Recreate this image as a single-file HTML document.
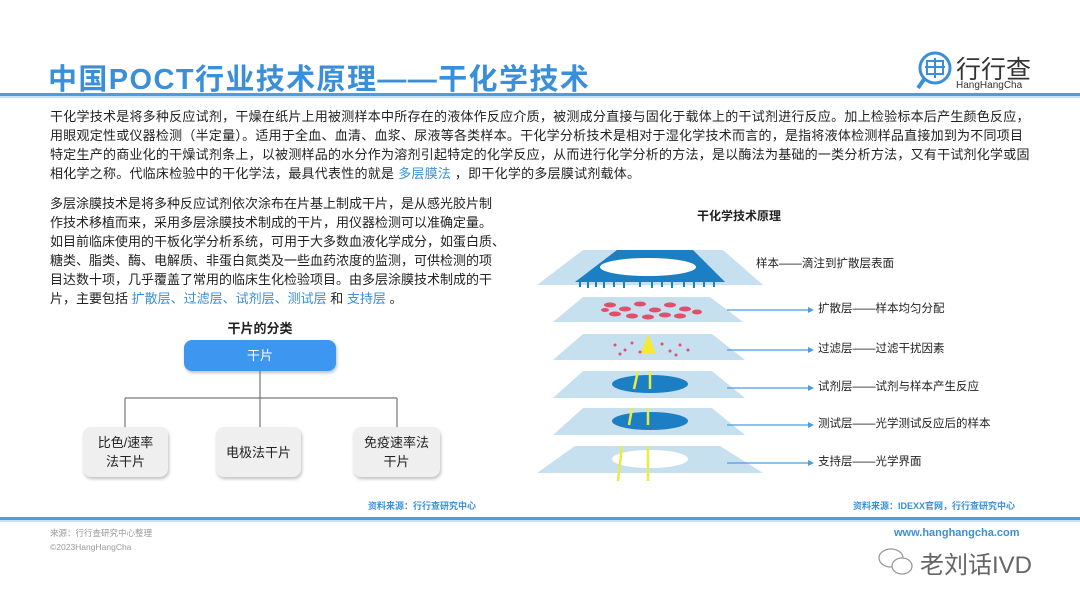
<!DOCTYPE html>
<html><head><meta charset="utf-8"><style>
*{margin:0;padding:0;box-sizing:border-box}
body{width:1080px;height:608px;background:#fff;position:relative;overflow:hidden;font-family:"Liberation Sans","Noto Sans CJK SC",sans-serif;color:#222}
.a{position:absolute;white-space:nowrap}
.p{font-size:13px;line-height:19px}
.p1{letter-spacing:0.24px}
.b{color:#3d8fd6}
.box{position:absolute;background:#efefef;border-radius:8px;box-shadow:1px 2px 3px rgba(0,0,0,.25);font-size:13px;text-align:center;display:flex;align-items:center;justify-content:center;line-height:19px}
</style></head><body>
<div class="a" style="left:48px;top:56px;font-size:29px;font-weight:bold;color:#3a8fd8;letter-spacing:1.4px">中国POCT行业技术原理——干化学技术</div>
<svg class="a" style="left:915px;top:50px" width="40" height="42" viewBox="0 0 40 42"><circle cx="20" cy="18" r="15" fill="none" stroke="#3a8fd8" stroke-width="3"/><path d="M10 28 L3 38" stroke="#3a8fd8" stroke-width="4"/><rect x="12" y="11" width="16" height="13" fill="none" stroke="#3a8fd8" stroke-width="2"/><path d="M20 8V28M10 17H30" stroke="#3a8fd8" stroke-width="2"/></svg>
<div class="a" style="left:956px;top:50px;font-size:25px;color:#333">行行查</div>
<div class="a" style="left:956px;top:80px;font-size:10px;color:#333">HangHangCha</div>
<div class="a" style="left:0;top:93px;width:1080px;height:3px;background:#4a9de0"></div>
<div class="a" style="left:0;top:96px;width:1080px;height:2px;background:#c8e0f5"></div>

<div class="a p p1" style="left:50px;top:107px">干化学技术是将多种反应试剂，干燥在纸片上用被测样本中所存在的液体作反应介质，被测成分直接与固化于载体上的干试剂进行反应。加上检验标本后产生颜色反应，</div>
<div class="a p p1" style="left:50px;top:126px">用眼观定性或仪器检测（半定量）。适用于全血、血清、血浆、尿液等各类样本。干化学分析技术是相对于湿化学技术而言的，是指将液体检测样品直接加到为不同项目</div>
<div class="a p p1" style="left:50px;top:145px">特定生产的商业化的干燥试剂条上，以被测样品的水分作为溶剂引起特定的化学反应，从而进行化学分析的方法，是以酶法为基础的一类分析方法，又有干试剂化学或固</div>
<div class="a p p1" style="left:50px;top:164px">相化学之称。代临床检验中的干化学法，最具代表性的就是 <span class="b">多层膜法</span> ，即干化学的多层膜试剂载体。</div>

<div class="a p" style="left:50px;top:194px">多层涂膜技术是将多种反应试剂依次涂布在片基上制成干片，是从感光胶片制</div>
<div class="a p" style="left:50px;top:213px">作技术移植而来，采用多层涂膜技术制成的干片，用仪器检测可以准确定量。</div>
<div class="a p" style="left:50px;top:232px">如目前临床使用的干板化学分析系统，可用于大多数血液化学成分，如蛋白质、</div>
<div class="a p" style="left:50px;top:251px">糖类、脂类、酶、电解质、非蛋白氮类及一些血药浓度的监测，可供检测的项</div>
<div class="a p" style="left:50px;top:270px">目达数十项，几乎覆盖了常用的临床生化检验项目。由多层涂膜技术制成的干</div>
<div class="a p" style="left:50px;top:289px">片，主要包括 <span class="b">扩散层、过滤层、试剂层、测试层</span> 和 <span class="b">支持层</span> 。</div>

<div class="a" style="left:0;top:318px;width:520px;text-align:center;font-size:13px;font-weight:bold">干片的分类</div>
<div class="box" style="left:184px;top:340px;width:152px;height:31px;background:#3d96ef;color:#fff">干片</div>
<svg class="a" style="left:0;top:0" width="520" height="500"><path d="M260 371V427M125 398H397M125 398V427M397 398V427" stroke="#777" stroke-width="1.2" fill="none"/></svg>
<div class="box" style="left:83px;top:427px;width:85px;height:50px">比色/速率<br>法干片</div>
<div class="box" style="left:216px;top:427px;width:85px;height:50px">电极法干片</div>
<div class="box" style="left:353px;top:427px;width:87px;height:50px">免疫速率法<br>干片</div>
<div class="a" style="left:368px;top:499px;font-size:9px;font-weight:bold;color:#3a8fd8">资料来源：行行查研究中心</div>

<div class="a" style="left:697px;top:207px;font-size:12px;font-weight:bold">干化学技术原理</div>
<svg class="a" style="left:0;top:0" width="1080" height="500">
<g fill="#c6e0f0">
<polygon points="583,250 723,250 763,285 537,285"/>
<polygon points="583,297 710,297 743,322 553,322"/>
<polygon points="583,334 712,334 745,360 553,360"/>
<polygon points="583,371 712,371 745,398 553,398"/>
<polygon points="583,408 712,408 745,435 553,435"/>
<polygon points="575,446 720,446 763,473 537,473"/>
</g>
<polygon points="617,250 693,250 725,282 575,282" fill="#1c7fc4"/>
<g stroke="#1c7fc4" stroke-width="2"><path d="M580 282v5M588 282v6M596 282v5M604 282v6M614 282v5M624 282v6M640 282v5M652 282v6M662 282v5M672 282v6M684 282v5M694 282v6M704 282v5M714 282v5"/></g>
<ellipse cx="648" cy="267" rx="48" ry="9" fill="#fff"/>
<g fill="#e0506a">
<ellipse cx="610" cy="305" rx="6" ry="2.5"/><ellipse cx="625" cy="309" rx="6" ry="2.5"/><ellipse cx="640" cy="304" rx="6" ry="2.5"/><ellipse cx="655" cy="310" rx="6" ry="2.5"/><ellipse cx="670" cy="305" rx="6" ry="2.5"/><ellipse cx="685" cy="309" rx="6" ry="2.5"/><ellipse cx="615" cy="314" rx="6" ry="2.5"/><ellipse cx="632" cy="316" rx="6" ry="2.5"/><ellipse cx="648" cy="317" rx="6" ry="2.5"/><ellipse cx="665" cy="315" rx="6" ry="2.5"/><ellipse cx="680" cy="316" rx="6" ry="2.5"/><ellipse cx="697" cy="312" rx="5" ry="2.5"/><ellipse cx="605" cy="310" rx="4" ry="2"/>
<circle cx="615" cy="345" r="1.5"/><circle cx="625" cy="350" r="1.5"/><circle cx="632" cy="343" r="1.5"/><circle cx="640" cy="352" r="1.5"/><circle cx="662" cy="344" r="1.5"/><circle cx="670" cy="351" r="1.5"/><circle cx="680" cy="345" r="1.5"/><circle cx="688" cy="350" r="1.5"/><circle cx="620" cy="354" r="1.5"/><circle cx="676" cy="355" r="1.5"/>
</g>
<polygon points="648,334 641,354 656,354" fill="#f5ea30"/>
<ellipse cx="650" cy="384" rx="38" ry="9" fill="#1c7fc4"/>
<ellipse cx="650" cy="421" rx="38" ry="9" fill="#1c7fc4"/>
<ellipse cx="650" cy="459" rx="38" ry="9" fill="#fff"/>
<g stroke="#e8ee40" stroke-width="2.5"><path d="M638 371L634 389M650 371L650 389M632 408L629 425M648 408L648 425M622 446L618 481M648 446L648 481"/></g>
<g stroke="#4a9de0" stroke-width="1.2"><path d="M727 310H808M727 350H808M727 388H808M727 425H808M727 463H808"/></g>
<g fill="#4a9de0"><polygon points="808,307 814,310 808,313"/><polygon points="808,347 814,350 808,353"/><polygon points="808,385 814,388 808,391"/><polygon points="808,422 814,425 808,428"/><polygon points="808,460 814,463 808,466"/></g>
</svg>
<div class="a" style="left:756px;top:255px;font-size:11.5px">样本——滴注到扩散层表面</div>
<div class="a" style="left:818px;top:300px;font-size:11.5px">扩散层——样本均匀分配</div>
<div class="a" style="left:818px;top:340px;font-size:11.5px">过滤层——过滤干扰因素</div>
<div class="a" style="left:818px;top:378px;font-size:11.5px">试剂层——试剂与样本产生反应</div>
<div class="a" style="left:818px;top:415px;font-size:11.5px">测试层——光学测试反应后的样本</div>
<div class="a" style="left:818px;top:453px;font-size:11.5px">支持层——光学界面</div>
<div class="a" style="left:853px;top:499px;font-size:9px;font-weight:bold;color:#3a8fd8">资料来源：IDEXX官网，行行查研究中心</div>

<div class="a" style="left:0;top:517px;width:1080px;height:3px;background:#4a9de0"></div>
<div class="a" style="left:0;top:520px;width:1080px;height:2px;background:#c8e0f5"></div>
<div class="a" style="left:50px;top:527px;font-size:8.5px;color:#999">来源：行行查研究中心整理</div>
<div class="a" style="left:50px;top:542px;font-size:8.5px;color:#999">©2023HangHangCha</div>
<div class="a" style="left:894px;top:527px;font-size:11px;font-weight:bold;color:#3a8fd8">www.hanghangcha.com</div>
<svg class="a" style="left:876px;top:545px" width="40" height="34"><ellipse cx="15" cy="13" rx="12" ry="9" fill="none" stroke="#999" stroke-width="1.3"/><ellipse cx="26" cy="21" rx="10" ry="8" fill="#fff" stroke="#999" stroke-width="1.3"/></svg>
<div class="a" style="left:920px;top:545px;font-size:24px;color:#666">老刘话IVD</div>
</body></html>
